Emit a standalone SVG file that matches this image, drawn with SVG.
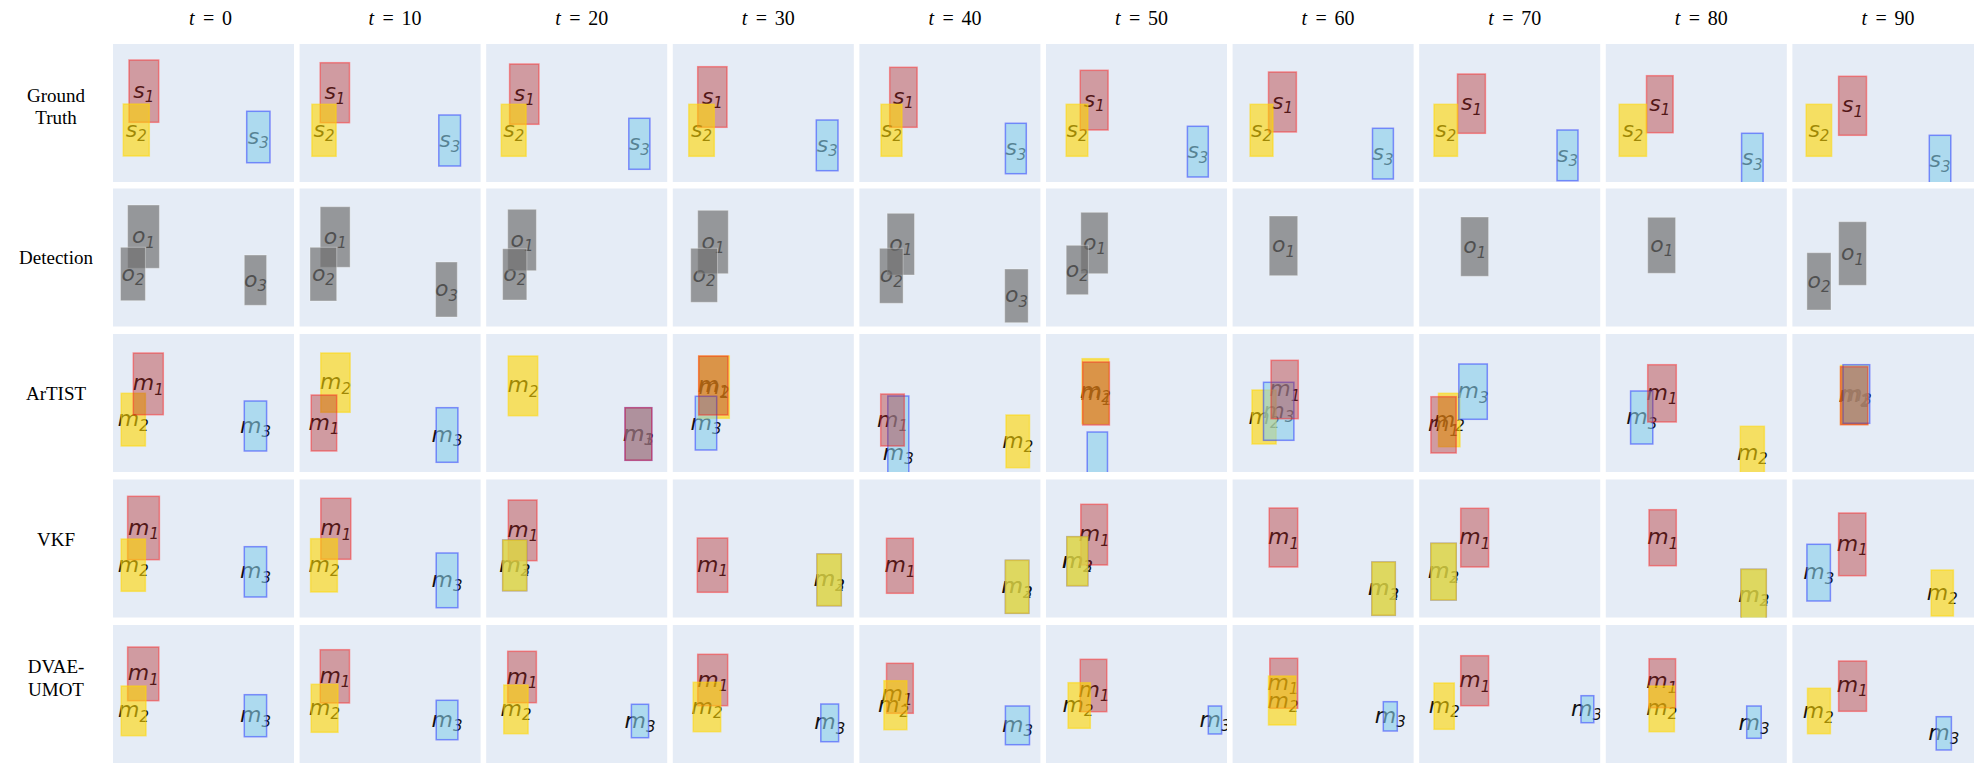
<svg xmlns="http://www.w3.org/2000/svg" width="1974" height="772" viewBox="0 0 1974 772">
<style>
.bg{fill:#E5ECF6}
.r{fill:#b22222;fill-opacity:.4;stroke:#ff2020;stroke-opacity:.45;stroke-width:1.5}
.y{fill:#ffd700;fill-opacity:.6;stroke:#ffd700;stroke-opacity:.5;stroke-width:1.5}
.b{fill:#87ceeb;fill-opacity:.6;stroke:#2030ff;stroke-opacity:.5;stroke-width:1.5}
.g{fill:#6e6e6e;fill-opacity:.68;stroke:#fff;stroke-opacity:.35;stroke-width:1}
.l{font-family:"DejaVu Sans",sans-serif;font-style:italic;font-size:22px;fill:#111;text-anchor:middle}
.s{font-size:15px}
.hd{font-family:"Liberation Serif",serif;font-size:20px;fill:#000}
.rl{font-family:"Liberation Serif",serif;font-size:19px;fill:#000;text-anchor:middle}
</style>
<rect width="1974" height="772" fill="#fff"/>
<g id="headers">
<text class="hd" y="25"><tspan x="189" font-style="italic">t</tspan><tspan x="203">=</tspan><tspan x="222">0</tspan></text>
<text class="hd" y="25"><tspan x="368.6" font-style="italic">t</tspan><tspan x="382.6">=</tspan><tspan x="401.6">10</tspan></text>
<text class="hd" y="25"><tspan x="555.2" font-style="italic">t</tspan><tspan x="569.2">=</tspan><tspan x="588.2">20</tspan></text>
<text class="hd" y="25"><tspan x="741.8" font-style="italic">t</tspan><tspan x="755.8">=</tspan><tspan x="774.8">30</tspan></text>
<text class="hd" y="25"><tspan x="928.4" font-style="italic">t</tspan><tspan x="942.4">=</tspan><tspan x="961.4">40</tspan></text>
<text class="hd" y="25"><tspan x="1115" font-style="italic">t</tspan><tspan x="1129">=</tspan><tspan x="1148">50</tspan></text>
<text class="hd" y="25"><tspan x="1301.6" font-style="italic">t</tspan><tspan x="1315.6">=</tspan><tspan x="1334.6">60</tspan></text>
<text class="hd" y="25"><tspan x="1488.2" font-style="italic">t</tspan><tspan x="1502.2">=</tspan><tspan x="1521.2">70</tspan></text>
<text class="hd" y="25"><tspan x="1674.8" font-style="italic">t</tspan><tspan x="1688.8">=</tspan><tspan x="1707.8">80</tspan></text>
<text class="hd" y="25"><tspan x="1861.4" font-style="italic">t</tspan><tspan x="1875.4">=</tspan><tspan x="1894.4">90</tspan></text>
</g>
<g id="row-labels">
<text class="rl" x="56" y="102">Ground</text>
<text class="rl" x="56" y="124">Truth</text>
<text class="rl" x="56" y="263.5">Detection</text>
<text class="rl" x="56" y="400">ArTIST</text>
<text class="rl" x="56" y="546">VKF</text>
<text class="rl" x="56" y="673">DVAE-</text>
<text class="rl" x="56" y="696">UMOT</text>
</g>

<!-- Row 1: Ground Truth -->
<g id="gt-0"><rect class="bg" x="113" y="44" width="181" height="138"/><svg x="113" y="44" width="181" height="138" viewBox="113 44 181 138">
<text class="l" x="143.8" y="97.7">s<tspan class="s" dy="4.5">1</tspan></text><text class="l" x="136.3" y="136.5">s<tspan class="s" dy="4.5">2</tspan></text><text class="l" x="258.3" y="143.5">s<tspan class="s" dy="4.5">3</tspan></text>
<rect class="r" x="129" y="60" width="29.7" height="62.3"/><rect class="y" x="123.3" y="104" width="26" height="52"/><rect class="b" x="246.7" y="111.3" width="23.3" height="51.4"/></svg></g>
<g id="gt-10"><rect class="bg" x="299.6" y="44" width="181" height="138"/><svg x="299.6" y="44" width="181" height="138" viewBox="299.6 44 181 138">
<text class="l" x="334.9" y="99.2">s<tspan class="s" dy="4.5">1</tspan></text><text class="l" x="324" y="136.8">s<tspan class="s" dy="4.5">2</tspan></text><text class="l" x="449.7" y="147">s<tspan class="s" dy="4.5">3</tspan></text>
<rect class="r" x="320.2" y="62.7" width="29.3" height="60"/><rect class="y" x="311.9" y="104.3" width="24.2" height="52"/><rect class="b" x="438.8" y="115" width="21.7" height="51"/></svg></g>
<g id="gt-20"><rect class="bg" x="486.2" y="44" width="181" height="138"/><svg x="486.2" y="44" width="181" height="138" viewBox="486.2 44 181 138">
<text class="l" x="524.3" y="100.7">s<tspan class="s" dy="4.5">1</tspan></text><text class="l" x="513.7" y="136.8">s<tspan class="s" dy="4.5">2</tspan></text><text class="l" x="639.4" y="150.3">s<tspan class="s" dy="4.5">3</tspan></text>
<rect class="r" x="509.6" y="64" width="29.3" height="60.3"/><rect class="y" x="501.3" y="104.3" width="24.8" height="52"/><rect class="b" x="628.8" y="118.3" width="21.1" height="51"/></svg></g>
<g id="gt-30"><rect class="bg" x="672.8" y="44" width="181" height="138"/><svg x="672.8" y="44" width="181" height="138" viewBox="672.8 44 181 138">
<text class="l" x="712.4" y="103.5">s<tspan class="s" dy="4.5">1</tspan></text><text class="l" x="701.6" y="136.8">s<tspan class="s" dy="4.5">2</tspan></text><text class="l" x="827.2" y="151.9">s<tspan class="s" dy="4.5">3</tspan></text>
<rect class="r" x="697.7" y="66.7" width="29.3" height="60.6"/><rect class="y" x="688.8" y="104.3" width="25.5" height="52"/><rect class="b" x="816.3" y="120" width="21.7" height="50.7"/></svg></g>
<g id="gt-40"><rect class="bg" x="859.4" y="44" width="181" height="138"/><svg x="859.4" y="44" width="181" height="138" viewBox="859.4 44 181 138">
<text class="l" x="903.4" y="103.8">s<tspan class="s" dy="4.5">1</tspan></text><text class="l" x="891.5" y="136.8">s<tspan class="s" dy="4.5">2</tspan></text><text class="l" x="1015.9" y="155">s<tspan class="s" dy="4.5">3</tspan></text>
<rect class="r" x="889.7" y="67.3" width="27.4" height="60"/><rect class="y" x="881" y="104.3" width="21" height="52"/><rect class="b" x="1005.4" y="123.3" width="20.9" height="50.4"/></svg></g>
<g id="gt-50"><rect class="bg" x="1046" y="44" width="181" height="138"/><svg x="1046" y="44" width="181" height="138" viewBox="1046 44 181 138">
<text class="l" x="1094.2" y="106.7">s<tspan class="s" dy="4.5">1</tspan></text><text class="l" x="1077" y="136.8">s<tspan class="s" dy="4.5">2</tspan></text><text class="l" x="1197.9" y="158.2">s<tspan class="s" dy="4.5">3</tspan></text>
<rect class="r" x="1080.2" y="70.3" width="27.9" height="59.7"/><rect class="y" x="1066.2" y="104.3" width="21.6" height="52"/><rect class="b" x="1187.4" y="126.3" width="20.9" height="50.7"/></svg></g>
<g id="gt-60"><rect class="bg" x="1232.6" y="44" width="181" height="138"/><svg x="1232.6" y="44" width="181" height="138" viewBox="1232.6 44 181 138">
<text class="l" x="1282.5" y="108.5">s<tspan class="s" dy="4.5">1</tspan></text><text class="l" x="1261.6" y="136.8">s<tspan class="s" dy="4.5">2</tspan></text><text class="l" x="1383" y="160.2">s<tspan class="s" dy="4.5">3</tspan></text>
<rect class="r" x="1268.5" y="72" width="27.9" height="60"/><rect class="y" x="1250.1" y="104.3" width="22.9" height="52"/><rect class="b" x="1372.5" y="128.3" width="20.9" height="50.7"/></svg></g>
<g id="gt-70"><rect class="bg" x="1419.2" y="44" width="181" height="138"/><svg x="1419.2" y="44" width="181" height="138" viewBox="1419.2 44 181 138">
<text class="l" x="1471.5" y="110.2">s<tspan class="s" dy="4.5">1</tspan></text><text class="l" x="1445.8" y="136.8">s<tspan class="s" dy="4.5">2</tspan></text><text class="l" x="1567.5" y="161.9">s<tspan class="s" dy="4.5">3</tspan></text>
<rect class="r" x="1457.5" y="74" width="27.9" height="59.3"/><rect class="y" x="1434" y="104.3" width="23.5" height="52"/><rect class="b" x="1557" y="130" width="21" height="50.7"/></svg></g>
<g id="gt-80"><rect class="bg" x="1605.8" y="44" width="181" height="138"/><svg x="1605.8" y="44" width="181" height="138" viewBox="1605.8 44 181 138">
<text class="l" x="1659.8" y="110.7">s<tspan class="s" dy="4.5">1</tspan></text><text class="l" x="1632.9" y="136.8">s<tspan class="s" dy="4.5">2</tspan></text><text class="l" x="1752.4" y="165.3">s<tspan class="s" dy="4.5">3</tspan></text>
<rect class="r" x="1646.5" y="75.7" width="26.6" height="57"/><rect class="y" x="1619.2" y="104.3" width="27.3" height="52"/><rect class="b" x="1741.6" y="133.3" width="21.5" height="51"/></svg></g>
<g id="gt-90"><rect class="bg" x="1792.4" y="44" width="182" height="138"/><svg x="1792.4" y="44" width="182" height="138" viewBox="1792.4 44 182 138">
<text class="l" x="1852.6" y="112.3">s<tspan class="s" dy="4.5">1</tspan></text><text class="l" x="1818.9" y="136.8">s<tspan class="s" dy="4.5">2</tspan></text><text class="l" x="1940" y="167.3">s<tspan class="s" dy="4.5">3</tspan></text>
<rect class="r" x="1838.6" y="76.3" width="27.9" height="59"/><rect class="y" x="1806.2" y="104.3" width="25.4" height="52"/><rect class="b" x="1929.3" y="135.3" width="21.5" height="51"/></svg></g>

<!-- Row 2: Detection -->
<g id="det-0"><rect class="bg" x="113" y="188.5" width="181" height="138"/><svg x="113" y="188.5" width="181" height="138" viewBox="113 188.5 181 138">
<text class="l" x="143.5" y="243.2">o<tspan class="s" dy="4.5">1</tspan></text><text class="l" x="133" y="280.5">o<tspan class="s" dy="4.5">2</tspan></text><text class="l" x="255.5" y="286.7">o<tspan class="s" dy="4.5">3</tspan></text>
<rect class="g" x="127.6" y="205" width="31.8" height="63.3"/><rect class="g" x="120.5" y="247.3" width="24.9" height="53.4"/><rect class="g" x="244.3" y="255" width="22.3" height="50.3"/></svg></g>
<g id="det-10"><rect class="bg" x="299.6" y="188.5" width="181" height="138"/><svg x="299.6" y="188.5" width="181" height="138" viewBox="299.6 188.5 181 138">
<text class="l" x="335.2" y="243.5">o<tspan class="s" dy="4.5">1</tspan></text><text class="l" x="323.4" y="280.7">o<tspan class="s" dy="4.5">2</tspan></text><text class="l" x="446.5" y="296">o<tspan class="s" dy="4.5">3</tspan></text>
<rect class="g" x="320.2" y="206.7" width="29.9" height="60.6"/><rect class="g" x="310" y="247.3" width="26.7" height="53.7"/><rect class="g" x="435.6" y="262" width="21.7" height="55"/></svg></g>
<g id="det-20"><rect class="bg" x="486.2" y="188.5" width="181" height="138"/><svg x="486.2" y="188.5" width="181" height="138" viewBox="486.2 188.5 181 138">
<text class="l" x="522" y="246.5">o<tspan class="s" dy="4.5">1</tspan></text><text class="l" x="514.7" y="280.9">o<tspan class="s" dy="4.5">2</tspan></text>
<rect class="g" x="507.7" y="209.3" width="28.7" height="61.4"/><rect class="g" x="502.6" y="248.7" width="24.2" height="51.3"/></svg></g>
<g id="det-30"><rect class="bg" x="672.8" y="188.5" width="181" height="138"/><svg x="672.8" y="188.5" width="181" height="138" viewBox="672.8 188.5 181 138">
<text class="l" x="713" y="248.5">o<tspan class="s" dy="4.5">1</tspan></text><text class="l" x="704.1" y="281.8">o<tspan class="s" dy="4.5">2</tspan></text>
<rect class="g" x="697.7" y="210.3" width="30.6" height="63.4"/><rect class="g" x="690.7" y="248.3" width="26.8" height="54"/></svg></g>
<g id="det-40"><rect class="bg" x="859.4" y="188.5" width="181" height="138"/><svg x="859.4" y="188.5" width="181" height="138" viewBox="859.4 188.5 181 138">
<text class="l" x="900.8" y="250.7">o<tspan class="s" dy="4.5">1</tspan></text><text class="l" x="891.3" y="282.3">o<tspan class="s" dy="4.5">2</tspan></text><text class="l" x="1016.5" y="302.4">o<tspan class="s" dy="4.5">3</tspan></text>
<rect class="g" x="887.1" y="213.3" width="27.4" height="61.7"/><rect class="g" x="879.5" y="248.3" width="23.6" height="55"/><rect class="g" x="1004.7" y="269" width="23.5" height="53.7"/></svg></g>
<g id="det-50"><rect class="bg" x="1046" y="188.5" width="181" height="138"/><svg x="1046" y="188.5" width="181" height="138" viewBox="1046 188.5 181 138">
<text class="l" x="1094.5" y="249.5">o<tspan class="s" dy="4.5">1</tspan></text><text class="l" x="1077.3" y="276.5">o<tspan class="s" dy="4.5">2</tspan></text>
<rect class="g" x="1080.8" y="212.3" width="27.3" height="61.4"/><rect class="g" x="1066.2" y="245.3" width="22.2" height="49.4"/></svg></g>
<g id="det-60"><rect class="bg" x="1232.6" y="188.5" width="181" height="138"/><svg x="1232.6" y="188.5" width="181" height="138" viewBox="1232.6 188.5 181 138">
<text class="l" x="1283.5" y="252.4">o<tspan class="s" dy="4.5">1</tspan></text>
<rect class="g" x="1269.2" y="216" width="28.5" height="59.7"/></svg></g>
<g id="det-70"><rect class="bg" x="1419.2" y="188.5" width="181" height="138"/><svg x="1419.2" y="188.5" width="181" height="138" viewBox="1419.2 188.5 181 138">
<text class="l" x="1474.7" y="253.2">o<tspan class="s" dy="4.5">1</tspan></text>
<rect class="g" x="1460.7" y="217" width="27.9" height="59.3"/></svg></g>
<g id="det-80"><rect class="bg" x="1605.8" y="188.5" width="181" height="138"/><svg x="1605.8" y="188.5" width="181" height="138" viewBox="1605.8 188.5 181 138">
<text class="l" x="1661.7" y="251.8">o<tspan class="s" dy="4.5">1</tspan></text>
<rect class="g" x="1647.7" y="217.3" width="27.9" height="56"/></svg></g>
<g id="det-90"><rect class="bg" x="1792.4" y="188.5" width="182" height="138"/><svg x="1792.4" y="188.5" width="182" height="138" viewBox="1792.4 188.5 182 138">
<text class="l" x="1852.6" y="260">o<tspan class="s" dy="4.5">1</tspan></text><text class="l" x="1819" y="287.9">o<tspan class="s" dy="4.5">2</tspan></text>
<rect class="g" x="1838.6" y="221.7" width="27.9" height="63.6"/><rect class="g" x="1806.9" y="252.7" width="24.1" height="57.3"/></svg></g>

<!-- Row 3: ArTIST -->
<g id="art-0"><rect class="bg" x="113" y="334" width="181" height="138"/><svg x="113" y="334" width="181" height="138" viewBox="113 334 181 138">
<text class="l" x="148.3" y="390.4">m<tspan class="s" dy="4.5">1</tspan></text><text class="l" x="133.3" y="426.2">m<tspan class="s" dy="4.5">2</tspan></text><text class="l" x="255.5" y="432.5">m<tspan class="s" dy="4.5">3</tspan></text>
<rect class="y" x="121.2" y="393.3" width="24.2" height="52.7"/><rect class="b" x="244.3" y="401" width="22.3" height="50"/><rect class="r" x="133.3" y="353" width="30" height="61.7"/></svg></g>
<g id="art-10"><rect class="bg" x="299.6" y="334" width="181" height="138"/><svg x="299.6" y="334" width="181" height="138" viewBox="299.6 334 181 138">
<text class="l" x="335.5" y="389.2">m<tspan class="s" dy="4.5">2</tspan></text><text class="l" x="324" y="429.5">m<tspan class="s" dy="4.5">1</tspan></text><text class="l" x="447" y="441.5">m<tspan class="s" dy="4.5">3</tspan></text>
<rect class="y" x="320.8" y="353" width="29.3" height="59.3"/><rect class="b" x="436.2" y="407.7" width="21.7" height="54.6"/><rect class="r" x="311.2" y="395" width="25.5" height="56"/></svg></g>
<g id="art-20"><rect class="bg" x="486.2" y="334" width="181" height="138"/><svg x="486.2" y="334" width="181" height="138" viewBox="486.2 334 181 138">
<text class="l" x="523" y="392.4">m<tspan class="s" dy="4.5">2</tspan></text><text class="l" x="638.4" y="440.5">m<tspan class="s" dy="4.5">1</tspan></text><text class="l" x="638.4" y="440.5">m<tspan class="s" dy="4.5">3</tspan></text>
<rect class="y" x="508.3" y="356" width="29.4" height="59.7"/><rect class="b" x="625" y="407.7" width="26.8" height="52.6"/><rect class="r" x="625" y="407.7" width="26.8" height="52.6"/></svg></g>
<g id="art-30"><rect class="bg" x="672.8" y="334" width="181" height="138"/><svg x="672.8" y="334" width="181" height="138" viewBox="672.8 334 181 138">
<text class="l" x="714" y="393.5">m<tspan class="s" dy="4.5">2</tspan></text><text class="l" x="713.3" y="392">m<tspan class="s" dy="4.5">1</tspan></text><text class="l" x="706" y="429.5">m<tspan class="s" dy="4.5">3</tspan></text>
<rect class="y" x="698.7" y="356" width="30.6" height="62.3"/><rect class="b" x="695.3" y="396.3" width="21.4" height="53.7"/><rect class="r" x="698.7" y="356" width="29.3" height="59"/></svg></g>
<g id="art-40"><rect class="bg" x="859.4" y="334" width="181" height="138"/><svg x="859.4" y="334" width="181" height="138" viewBox="859.4 334 181 138">
<text class="l" x="892.5" y="426.5">m<tspan class="s" dy="4.5">1</tspan></text><text class="l" x="898.3" y="459.5">m<tspan class="s" dy="4.5">3</tspan></text><text class="l" x="1017.8" y="447.8">m<tspan class="s" dy="4.5">2</tspan></text>
<rect class="y" x="1006" y="415" width="23.5" height="52.7"/><rect class="b" x="887.8" y="396" width="21" height="114"/><rect class="r" x="880.7" y="394" width="23.6" height="52"/></svg></g>
<g id="art-50"><rect class="bg" x="1046" y="334" width="181" height="138"/><svg x="1046" y="334" width="181" height="138" viewBox="1046 334 181 138">
<text class="l" x="1095.4" y="397.7">m<tspan class="s" dy="4.5">2</tspan></text><text class="l" x="1096" y="400">m<tspan class="s" dy="4.5">1</tspan></text><text class="l" x="1097.3" y="493.5">m<tspan class="s" dy="4.5">3</tspan></text>
<rect class="y" x="1082.1" y="358.7" width="26.6" height="65"/><rect class="b" x="1087.2" y="432" width="20.3" height="110"/><rect class="r" x="1082.7" y="362" width="26.7" height="63"/></svg></g>
<g id="art-60"><rect class="bg" x="1232.6" y="334" width="181" height="138"/><svg x="1232.6" y="334" width="181" height="138" viewBox="1232.6 334 181 138">
<text class="l" x="1284.7" y="396">m<tspan class="s" dy="4.5">1</tspan></text><text class="l" x="1264" y="423.5">m<tspan class="s" dy="4.5">2</tspan></text><text class="l" x="1278.7" y="417.8">m<tspan class="s" dy="4.5">3</tspan></text>
<rect class="y" x="1252" y="390" width="24.1" height="54"/><rect class="b" x="1263.5" y="382.3" width="30.4" height="58"/><rect class="r" x="1271" y="360.3" width="27.3" height="58.4"/></svg></g>
<g id="art-70"><rect class="bg" x="1419.2" y="334" width="181" height="138"/><svg x="1419.2" y="334" width="181" height="138" viewBox="1419.2 334 181 138">
<text class="l" x="1473" y="398.2">m<tspan class="s" dy="4.5">3</tspan></text><text class="l" x="1449.3" y="426.5">m<tspan class="s" dy="4.5">2</tspan></text><text class="l" x="1443.5" y="431.3">m<tspan class="s" dy="4.5">1</tspan></text>
<rect class="y" x="1438.5" y="393.3" width="21.5" height="53.4"/><rect class="b" x="1458.8" y="364" width="28.5" height="55.3"/><rect class="r" x="1430.9" y="396.7" width="25.3" height="56.3"/></svg></g>
<g id="art-80"><rect class="bg" x="1605.8" y="334" width="181" height="138"/><svg x="1605.8" y="334" width="181" height="138" viewBox="1605.8 334 181 138">
<text class="l" x="1662" y="399.8">m<tspan class="s" dy="4.5">1</tspan></text><text class="l" x="1641.7" y="424">m<tspan class="s" dy="4.5">3</tspan></text><text class="l" x="1752.4" y="459.8">m<tspan class="s" dy="4.5">2</tspan></text>
<rect class="y" x="1740.3" y="426.3" width="24.1" height="54"/><rect class="b" x="1630.6" y="391" width="22.2" height="53"/><rect class="r" x="1647.7" y="364.7" width="28.6" height="57.3"/></svg></g>
<g id="art-90"><rect class="bg" x="1792.4" y="334" width="182" height="138"/><svg x="1792.4" y="334" width="182" height="138" viewBox="1792.4 334 182 138">
<text class="l" x="1854.2" y="401.5">m<tspan class="s" dy="4.5">2</tspan></text><text class="l" x="1856.4" y="400.5">m<tspan class="s" dy="4.5">3</tspan></text><text class="l" x="1854.2" y="402.2">m<tspan class="s" dy="4.5">1</tspan></text>
<rect class="y" x="1840.5" y="365.5" width="27.3" height="59"/><rect class="b" x="1843" y="364.7" width="26.7" height="58.6"/><rect class="r" x="1840.5" y="366.7" width="27.3" height="58"/></svg></g>

<!-- Row 4: VKF -->
<g id="vkf-0"><rect class="bg" x="113" y="479.5" width="181" height="138"/><svg x="113" y="479.5" width="181" height="138" viewBox="113 479.5 181 138">
<text class="l" x="143.5" y="534.5">m<tspan class="s" dy="4.5">1</tspan></text><text class="l" x="133.3" y="571.7">m<tspan class="s" dy="4.5">2</tspan></text><text class="l" x="255.5" y="578.3">m<tspan class="s" dy="4.5">3</tspan></text>
<rect class="r" x="127.6" y="496.3" width="31.8" height="63.4"/><rect class="b" x="244.3" y="546.7" width="22.3" height="50.3"/><rect class="y" x="121.2" y="539" width="24.2" height="52.3"/></svg></g>
<g id="vkf-10"><rect class="bg" x="299.6" y="479.5" width="181" height="138"/><svg x="299.6" y="479.5" width="181" height="138" viewBox="299.6 479.5 181 138">
<text class="l" x="335.8" y="535.3">m<tspan class="s" dy="4.5">1</tspan></text><text class="l" x="324" y="571.8">m<tspan class="s" dy="4.5">2</tspan></text><text class="l" x="447" y="586.8">m<tspan class="s" dy="4.5">3</tspan></text>
<rect class="r" x="320.8" y="498.3" width="30" height="61"/><rect class="b" x="436.2" y="553" width="21.7" height="54.7"/><rect class="y" x="310.6" y="538.7" width="26.8" height="53.3"/></svg></g>
<g id="vkf-20"><rect class="bg" x="486.2" y="479.5" width="181" height="138"/><svg x="486.2" y="479.5" width="181" height="138" viewBox="486.2 479.5 181 138">
<text class="l" x="522.7" y="536.8">m<tspan class="s" dy="4.5">1</tspan></text><text class="l" x="514.7" y="571.8">m<tspan class="s" dy="4.5">2</tspan></text><text class="l" x="514.7" y="571.8">m<tspan class="s" dy="4.5">3</tspan></text>
<rect class="r" x="508.3" y="500" width="28.7" height="60.7"/><rect class="b" x="502.7" y="540" width="24" height="50.7"/><rect class="y" x="502.7" y="540" width="24" height="50.7"/></svg></g>
<g id="vkf-30"><rect class="bg" x="672.8" y="479.5" width="181" height="138"/><svg x="672.8" y="479.5" width="181" height="138" viewBox="672.8 479.5 181 138">
<text class="l" x="712.5" y="571.7">m<tspan class="s" dy="4.5">1</tspan></text><text class="l" x="829.2" y="586.3">m<tspan class="s" dy="4.5">2</tspan></text><text class="l" x="829.2" y="586.3">m<tspan class="s" dy="4.5">3</tspan></text>
<rect class="r" x="697.3" y="538" width="30.4" height="54.3"/><rect class="b" x="817" y="554" width="24.3" height="51.7"/><rect class="y" x="817" y="554" width="24.3" height="51.7"/></svg></g>
<g id="vkf-40"><rect class="bg" x="859.4" y="479.5" width="181" height="138"/><svg x="859.4" y="479.5" width="181" height="138" viewBox="859.4 479.5 181 138">
<text class="l" x="900" y="572.3">m<tspan class="s" dy="4.5">1</tspan></text><text class="l" x="1017" y="593.3">m<tspan class="s" dy="4.5">2</tspan></text><text class="l" x="1017" y="593.3">m<tspan class="s" dy="4.5">3</tspan></text>
<rect class="r" x="886.5" y="538.3" width="26.8" height="55"/><rect class="b" x="1005.4" y="560.3" width="23.4" height="53"/><rect class="y" x="1005.4" y="560.3" width="23.4" height="53"/></svg></g>
<g id="vkf-50"><rect class="bg" x="1046" y="479.5" width="181" height="138"/><svg x="1046" y="479.5" width="181" height="138" viewBox="1046 479.5 181 138">
<text class="l" x="1094.2" y="541.2">m<tspan class="s" dy="4.5">1</tspan></text><text class="l" x="1077.4" y="567.7">m<tspan class="s" dy="4.5">2</tspan></text><text class="l" x="1077.4" y="567.7">m<tspan class="s" dy="4.5">3</tspan></text>
<rect class="r" x="1080.8" y="504.3" width="26.7" height="60.7"/><rect class="b" x="1066.9" y="536.7" width="20.9" height="49"/><rect class="y" x="1066.9" y="536.7" width="20.9" height="49"/></svg></g>
<g id="vkf-60"><rect class="bg" x="1232.6" y="479.5" width="181" height="138"/><svg x="1232.6" y="479.5" width="181" height="138" viewBox="1232.6 479.5 181 138">
<text class="l" x="1283.5" y="544">m<tspan class="s" dy="4.5">1</tspan></text><text class="l" x="1383.6" y="595.2">m<tspan class="s" dy="4.5">2</tspan></text><text class="l" x="1383.6" y="595.2">m<tspan class="s" dy="4.5">3</tspan></text>
<rect class="r" x="1269.2" y="508" width="28.5" height="59"/><rect class="b" x="1371.9" y="562" width="23.4" height="53.3"/><rect class="y" x="1371.9" y="562" width="23.4" height="53.3"/></svg></g>
<g id="vkf-70"><rect class="bg" x="1419.2" y="479.5" width="181" height="138"/><svg x="1419.2" y="479.5" width="181" height="138" viewBox="1419.2 479.5 181 138">
<text class="l" x="1474.7" y="544.2">m<tspan class="s" dy="4.5">1</tspan></text><text class="l" x="1443.5" y="578.2">m<tspan class="s" dy="4.5">2</tspan></text><text class="l" x="1443.5" y="578.2">m<tspan class="s" dy="4.5">3</tspan></text>
<rect class="r" x="1460.7" y="508.3" width="27.9" height="58.7"/><rect class="b" x="1430.9" y="543.3" width="25.3" height="56.7"/><rect class="y" x="1430.9" y="543.3" width="25.3" height="56.7"/></svg></g>
<g id="vkf-80"><rect class="bg" x="1605.8" y="479.5" width="181" height="138"/><svg x="1605.8" y="479.5" width="181" height="138" viewBox="1605.8 479.5 181 138">
<text class="l" x="1662.7" y="544.2">m<tspan class="s" dy="4.5">1</tspan></text><text class="l" x="1753.7" y="601.8">m<tspan class="s" dy="4.5">2</tspan></text><text class="l" x="1753.7" y="601.8">m<tspan class="s" dy="4.5">3</tspan></text>
<rect class="r" x="1649" y="509.7" width="27.3" height="56"/><rect class="b" x="1741" y="569.3" width="25.3" height="52"/><rect class="y" x="1741" y="569.3" width="25.3" height="52"/></svg></g>
<g id="vkf-90"><rect class="bg" x="1792.4" y="479.5" width="182" height="138"/><svg x="1792.4" y="479.5" width="182" height="138" viewBox="1792.4 479.5 182 138">
<text class="l" x="1852.3" y="550.8">m<tspan class="s" dy="4.5">1</tspan></text><text class="l" x="1818.7" y="579.2">m<tspan class="s" dy="4.5">3</tspan></text><text class="l" x="1942.3" y="599.5">m<tspan class="s" dy="4.5">2</tspan></text>
<rect class="r" x="1838.6" y="513" width="27.3" height="62.7"/><rect class="b" x="1806.9" y="544.3" width="23.5" height="56.7"/><rect class="y" x="1931.2" y="570" width="22.2" height="46"/></svg></g>

<!-- Row 5: DVAE-UMOT -->
<g id="dvae-0"><rect class="bg" x="113" y="625" width="181" height="138"/><svg x="113" y="625" width="181" height="138" viewBox="113 625 181 138">
<text class="l" x="143.2" y="680.3">m<tspan class="s" dy="4.5">1</tspan></text><text class="l" x="133.6" y="717.3">m<tspan class="s" dy="4.5">2</tspan></text><text class="l" x="255.5" y="722.2">m<tspan class="s" dy="4.5">3</tspan></text>
<rect class="r" x="127.6" y="647" width="31.2" height="53.7"/><rect class="y" x="121.2" y="686" width="24.8" height="49.7"/><rect class="b" x="244.3" y="694.7" width="22.3" height="42"/></svg></g>
<g id="dvae-10"><rect class="bg" x="299.6" y="625" width="181" height="138"/><svg x="299.6" y="625" width="181" height="138" viewBox="299.6 625 181 138">
<text class="l" x="334.9" y="682.8">m<tspan class="s" dy="4.5">1</tspan></text><text class="l" x="324.6" y="714.8">m<tspan class="s" dy="4.5">2</tspan></text><text class="l" x="447" y="726.5">m<tspan class="s" dy="4.5">3</tspan></text>
<rect class="r" x="320.2" y="649.7" width="29.3" height="53.3"/><rect class="y" x="311.2" y="684.3" width="26.8" height="48"/><rect class="b" x="436.2" y="700.3" width="21.7" height="39.4"/></svg></g>
<g id="dvae-20"><rect class="bg" x="486.2" y="625" width="181" height="138"/><svg x="486.2" y="625" width="181" height="138" viewBox="486.2 625 181 138">
<text class="l" x="522" y="683.5">m<tspan class="s" dy="4.5">1</tspan></text><text class="l" x="516" y="715.8">m<tspan class="s" dy="4.5">2</tspan></text><text class="l" x="640" y="727.5">m<tspan class="s" dy="4.5">3</tspan></text>
<rect class="r" x="507.7" y="651.3" width="28.7" height="51.4"/><rect class="y" x="503.8" y="685" width="24.3" height="48.7"/><rect class="b" x="631.4" y="704.3" width="17.2" height="33.4"/></svg></g>
<g id="dvae-30"><rect class="bg" x="672.8" y="625" width="181" height="138"/><svg x="672.8" y="625" width="181" height="138" viewBox="672.8 625 181 138">
<text class="l" x="712.7" y="686.5">m<tspan class="s" dy="4.5">1</tspan></text><text class="l" x="707" y="713.5">m<tspan class="s" dy="4.5">2</tspan></text><text class="l" x="829.7" y="729.3">m<tspan class="s" dy="4.5">3</tspan></text>
<rect class="r" x="697.7" y="654.3" width="30" height="51.4"/><rect class="y" x="693.2" y="682.3" width="27.5" height="49.4"/><rect class="b" x="820.8" y="704" width="17.8" height="37.7"/></svg></g>
<g id="dvae-40"><rect class="bg" x="859.4" y="625" width="181" height="138"/><svg x="859.4" y="625" width="181" height="138" viewBox="859.4 625 181 138">
<text class="l" x="897" y="700.8">m<tspan class="s" dy="4.5">1</tspan></text><text class="l" x="893.5" y="712.2">m<tspan class="s" dy="4.5">2</tspan></text><text class="l" x="1017.5" y="731.8">m<tspan class="s" dy="4.5">3</tspan></text>
<rect class="r" x="886.5" y="663.3" width="26.8" height="50"/><rect class="y" x="883.9" y="680.7" width="23" height="49"/><rect class="b" x="1005.4" y="706" width="24.1" height="38.7"/></svg></g>
<g id="dvae-50"><rect class="bg" x="1046" y="625" width="181" height="138"/><svg x="1046" y="625" width="181" height="138" viewBox="1046 625 181 138">
<text class="l" x="1094" y="696.5">m<tspan class="s" dy="4.5">1</tspan></text><text class="l" x="1078" y="711.5">m<tspan class="s" dy="4.5">2</tspan></text><text class="l" x="1215" y="726.5">m<tspan class="s" dy="4.5">3</tspan></text>
<rect class="r" x="1080.2" y="659.3" width="26.6" height="52.4"/><rect class="y" x="1068.1" y="682.7" width="22.2" height="45.6"/><rect class="b" x="1208.3" y="706" width="13.3" height="28"/></svg></g>
<g id="dvae-60"><rect class="bg" x="1232.6" y="625" width="181" height="138"/><svg x="1232.6" y="625" width="181" height="138" viewBox="1232.6 625 181 138">
<text class="l" x="1283" y="689.8">m<tspan class="s" dy="4.5">1</tspan></text><text class="l" x="1283" y="707.5">m<tspan class="s" dy="4.5">2</tspan></text><text class="l" x="1390.3" y="722.8">m<tspan class="s" dy="4.5">3</tspan></text>
<rect class="r" x="1269.8" y="658.3" width="27.9" height="50"/><rect class="y" x="1268.5" y="676" width="27.3" height="49"/><rect class="b" x="1383.3" y="701.7" width="14" height="29.3"/></svg></g>
<g id="dvae-70"><rect class="bg" x="1419.2" y="625" width="181" height="138"/><svg x="1419.2" y="625" width="181" height="138" viewBox="1419.2 625 181 138">
<text class="l" x="1474.7" y="687.2">m<tspan class="s" dy="4.5">1</tspan></text><text class="l" x="1444.2" y="712.7">m<tspan class="s" dy="4.5">2</tspan></text><text class="l" x="1586.5" y="715.7">m<tspan class="s" dy="4.5">3</tspan></text>
<rect class="r" x="1460.7" y="655.7" width="27.9" height="50"/><rect class="y" x="1434" y="683" width="20.3" height="46.3"/><rect class="b" x="1581" y="695.7" width="12.8" height="27"/></svg></g>
<g id="dvae-80"><rect class="bg" x="1605.8" y="625" width="181" height="138"/><svg x="1605.8" y="625" width="181" height="138" viewBox="1605.8 625 181 138">
<text class="l" x="1661.7" y="688.2">m<tspan class="s" dy="4.5">1</tspan></text><text class="l" x="1661.7" y="714.8">m<tspan class="s" dy="4.5">2</tspan></text><text class="l" x="1754" y="729.8">m<tspan class="s" dy="4.5">3</tspan></text>
<rect class="r" x="1649" y="658.7" width="26.6" height="49"/><rect class="y" x="1649" y="686" width="25.4" height="45.7"/><rect class="b" x="1746.7" y="706" width="14.5" height="32.3"/></svg></g>
<g id="dvae-90"><rect class="bg" x="1792.4" y="625" width="182" height="138"/><svg x="1792.4" y="625" width="182" height="138" viewBox="1792.4 625 182 138">
<text class="l" x="1852.3" y="691.5">m<tspan class="s" dy="4.5">1</tspan></text><text class="l" x="1818.3" y="718.2">m<tspan class="s" dy="4.5">2</tspan></text><text class="l" x="1943.8" y="739.8">m<tspan class="s" dy="4.5">3</tspan></text>
<rect class="r" x="1838.6" y="661" width="27.9" height="50.3"/><rect class="y" x="1807.5" y="688.3" width="22.9" height="45.4"/><rect class="b" x="1936.2" y="716.7" width="15.2" height="33.3"/></svg></g>
</svg>
